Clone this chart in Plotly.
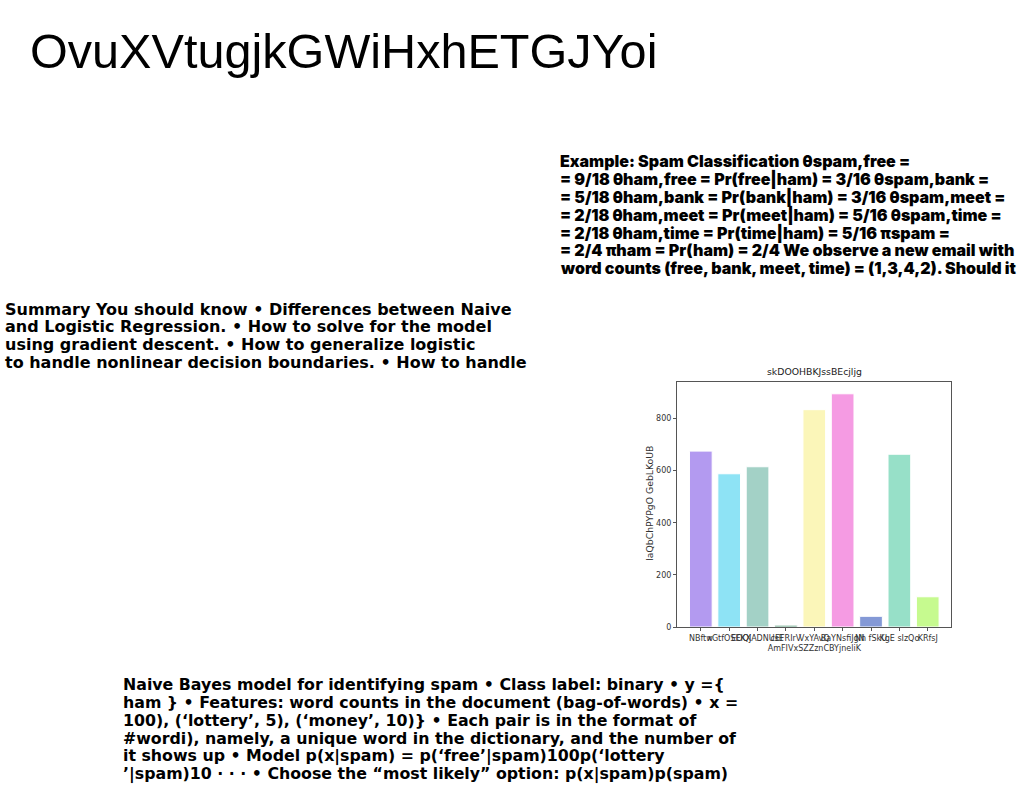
import plotly.graph_objects as go

# bar chart data
categories = ["NBftw", "xGtfOSEKX", "EOQJADNUsE", "cEFRIrV", "VxYAvQ<br>AmFIVxSZZznCBYjneliK",
              "BaYNsfiJgN", "Nh fSkU", "KgE sIzQo", "KRfsJ"]
values = [675, 588, 615, 7, 834, 895, 41, 663, 116]
bar_colors = ["#b39af0", "#8ee3f5", "#a3d1c6", "#5a9e7c", "#fbf6b9",
              "#f59be3", "#8499d6", "#97e0c8", "#c6fa8f"]
y_ticks = [0, 200, 400, 600, 800]

chart_title = "skDOOHBKJssBEcjljg"
y_label = "laQbChPYPgO GebLKoUB"

# slide texts
slide_title = "OvuXVtugjkGWiHxhETGJYoi"
spam_lines = [
    "Example: Spam Classification θspam,free =",
    "= 9/18 θham,free = Pr(free|ham) = 3/16 θspam,bank =",
    "= 5/18 θham,bank = Pr(bank|ham) = 3/16 θspam,meet =",
    "= 2/18 θham,meet = Pr(meet|ham) = 5/16 θspam,time =",
    "= 2/18 θham,time = Pr(time|ham) = 5/16 πspam =",
    "= 2/4 πham = Pr(ham) = 2/4 We observe a new email with",
    "word counts (free, bank, meet, time) = (1,3,4,2). Should it",
]
summary_lines = [
    "Summary You should know • Differences between Naive",
    "and Logistic Regression. • How to solve for the model",
    "using gradient descent. • How to generalize logistic",
    "to handle nonlinear decision boundaries. • How to handle",
]
bayes_lines = [
    "Naive Bayes model for identifying spam • Class label: binary • y ={",
    "ham } • Features: word counts in the document (bag-of-words) • x =",
    "100), (‘lottery’, 5), (‘money’, 10)} • Each pair is in the format of",
    "#wordi), namely, a unique word in the dictionary, and the number of",
    "it shows up • Model p(x|spam) = p(‘free’|spam)100p(‘lottery",
    "’|spam)10 · · · • Choose the “most likely” option: p(x|spam)p(spam)",
]

W, H = 1024, 788
LINE = 18  # px between text lines

fig = go.Figure()
fig.add_trace(go.Bar(
    x=categories, y=values,
    marker=dict(color=bar_colors, line=dict(color="white", width=1)),
    width=0.8,
))

axis_font = dict(family="DejaVu Sans", size=8, color="#333")
fig.update_layout(
    width=W, height=H,
    margin=dict(l=0, r=0, t=0, b=0),
    paper_bgcolor="white", plot_bgcolor="white",
    showlegend=False,
    xaxis=dict(
        domain=[677 / W, 951 / W], range=[-0.84, 8.82],
        showline=True, mirror=True, linecolor="#555", linewidth=1,
        ticks="outside", ticklen=3, tickcolor="#555", tickangle=0,
        tickfont=axis_font, showgrid=False,
    ),
    yaxis=dict(
        domain=[1 - 631 / H, 1 - 384.5 / H], range=[0, 940],
        tickvals=y_ticks,
        showline=True, mirror=True, linecolor="#555", linewidth=1,
        ticks="outside", ticklen=3, tickcolor="#555",
        tickfont=axis_font, showgrid=False, zeroline=False,
    ),
)

annotations = [
    dict(text=chart_title, x=814 / W, y=1 - 374 / H, xanchor="center",
         font=dict(family="DejaVu Sans", size=9.3, color="#222")),
    dict(text=y_label, x=650 / W, y=1 - 507 / H, xanchor="center",
         textangle=-90, font=dict(family="DejaVu Sans", size=9.3, color="#333")),
    dict(text=slide_title, x=30 / W, y=1 - 51 / H, xanchor="left",
         font=dict(family="Liberation Sans", size=48.6, color="black")),
]


def text_block(lines, x0, y0, font):
    for i, line in enumerate(lines):
        annotations.append(dict(text=line, x=x0 / W, y=1 - (y0 + i * LINE) / H,
                                xanchor="left", align="left", font=font))


text_block(spam_lines, 560, 162, dict(family="Inter", size=16, color="black", weight=900))
text_block(summary_lines, 5, 311, dict(family="DejaVu Sans", size=16, color="black", weight="bold"))
text_block(bayes_lines, 123, 689, dict(family="DejaVu Sans", size=15.8, color="black", weight="bold"))

for a in annotations:
    a.update(xref="paper", yref="paper", yanchor="middle", showarrow=False,
             borderpad=0, borderwidth=0)
fig.update_layout(annotations=annotations)

fig.write_html("out.html", config={"displayModeBar": False},
               post_script="document.body.style.margin='0';")
